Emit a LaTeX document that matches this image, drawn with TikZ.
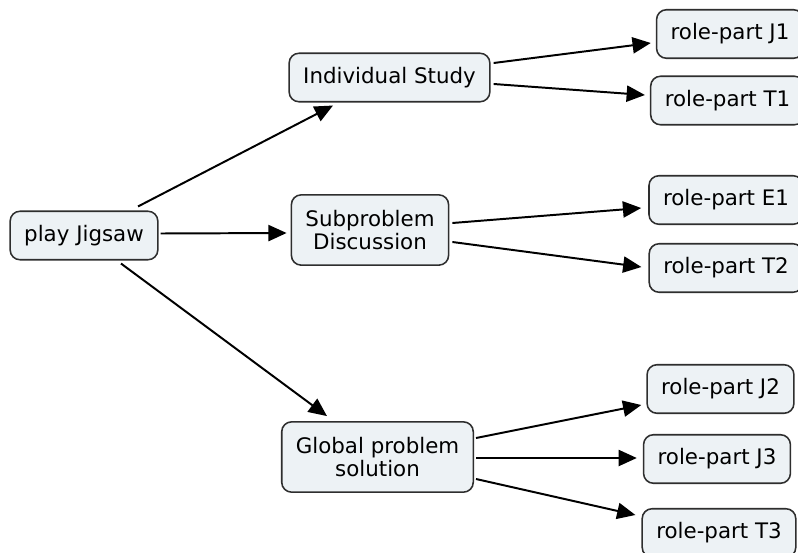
\documentclass[tikz,border=0pt]{standalone}
\usepackage{fontspec}
\setmainfont{DejaVu Sans}
\usepackage{xcolor}
\usetikzlibrary{arrows.meta}

\definecolor{boxfill}{HTML}{EDF2F5}
\definecolor{boxline}{HTML}{2E2E2E}

\begin{document}
\begin{tikzpicture}[
    x=0.025cm, y=-0.025cm,
    font=\fontsize{15.2}{16.5}\selectfont,
    concept/.style={
        rectangle,
        rounded corners=7pt,
        draw=boxline,
        line width=1.1pt,
        fill=boxfill,
        align=center,
        inner xsep=10pt,
        inner ysep=4pt,
        minimum height=34.5pt
    },
    twoline/.style={concept, minimum height=50pt},
    link/.style={-{Triangle[length=13pt,width=11.5pt]}, line width=1.4pt, draw=black}
]

% canvas
\clip (0,0) rectangle (798,553);
\fill[white] (0,0) rectangle (798,553);

% =========================================================
% Activities
% =========================================================
\node[concept] (play) at (84,235.5) {play Jigsaw};
\node[concept] (indiv) at (389.5,77.5) {Individual Study};
\node[twoline] (sub) at (370,230) {Subproblem\\Discussion};
\node[twoline] (glob) at (377.5,457) {Global problem\\solution};

% Role parts
\node[concept] (J1) at (730,34) {role-part J1};
\node[concept] (T1) at (727.5,100.5) {role-part T1};
\node[concept] (E1) at (726,200) {role-part E1};
\node[concept] (T2) at (726,268) {role-part T2};
\node[concept] (J2) at (720.5,389) {role-part J2};
\node[concept] (J3) at (717,459) {role-part J3};
\node[concept] (T3) at (719,533) {role-part T3};

% =========================================================
% Links
% =========================================================
\draw[link] ([shift={(54,-4)}]play.north) -- ([shift={(-56.5,3)}]indiv.south);
\draw[link] ([shift={(2,-2)}]play.east) -- ([shift={(-4,3)}]sub.west);
\draw[link] ([shift={(37,3)}]play.south) -- ([shift={(-50.5,-5)}]glob.north);

\draw[link] ([shift={(3,-14.5)}]indiv.east) -- ([shift={(-5,9)}]J1.west);
\draw[link] ([shift={(3,6.5)}]indiv.east) -- ([shift={(-5,-5.5)}]T1.west);

\draw[link] ([shift={(3,-7)}]sub.east) -- ([shift={(-7,8)}]E1.west);
\draw[link] ([shift={(3,12)}]sub.east) -- ([shift={(-7,-1)}]T2.west);

\draw[link] ([shift={(2,-19)}]glob.east) -- ([shift={(-5,16)}]J2.west);
\draw[link] ([shift={(2,1)}]glob.east) -- ([shift={(-6,-1)}]J3.west);
\draw[link] ([shift={(2,22)}]glob.east) -- ([shift={(-6,-18)}]T3.west);

\end{tikzpicture}
\end{document}
